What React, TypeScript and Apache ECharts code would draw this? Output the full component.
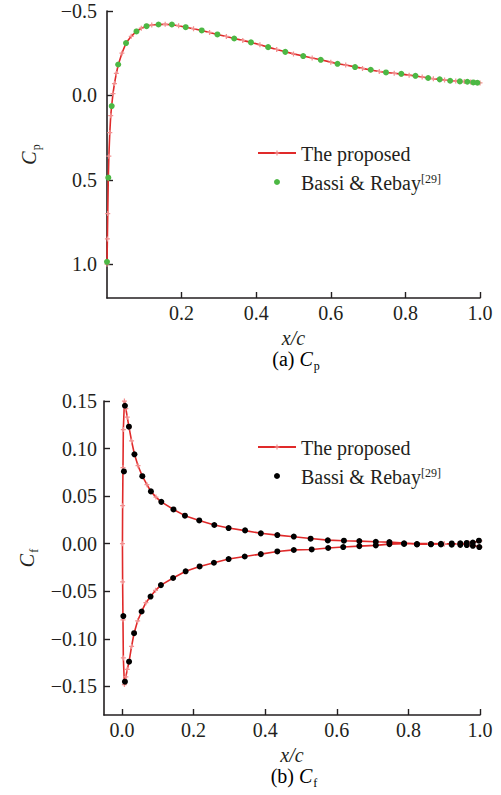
import React, { useEffect, useRef } from "react";
import * as echarts from "echarts";

// ---- Data: (a) pressure coefficient Cp ----
const cpLineX = [0, 0.001, 0.002, 0.0035, 0.005, 0.0075, 0.01, 0.0126, 0.016, 0.02, 0.025, 0.03, 0.04, 0.051, 0.065, 0.079, 0.092, 0.106, 0.12, 0.138, 0.156, 0.174, 0.192, 0.211, 0.232, 0.254, 0.275, 0.296, 0.32, 0.341, 0.364, 0.386, 0.41, 0.432, 0.455, 0.478, 0.5, 0.526, 0.55, 0.573, 0.6, 0.618, 0.64, 0.665, 0.685, 0.707, 0.73, 0.748, 0.77, 0.789, 0.81, 0.827, 0.845, 0.861, 0.875, 0.892, 0.905, 0.92, 0.935, 0.946, 0.958, 0.966, 0.975, 0.982, 0.99, 1.0];
const cpLineY = [1.0, 0.85, 0.7, 0.49, 0.36, 0.22, 0.12, 0.06, -0.01, -0.07, -0.13, -0.18, -0.25, -0.31, -0.35, -0.38, -0.398, -0.41, -0.417, -0.42, -0.421, -0.419, -0.413, -0.404, -0.395, -0.385, -0.373, -0.361, -0.349, -0.337, -0.326, -0.314, -0.3, -0.286, -0.272, -0.259, -0.246, -0.233, -0.222, -0.211, -0.197, -0.188, -0.18, -0.169, -0.16, -0.151, -0.142, -0.136, -0.131, -0.126, -0.12, -0.115, -0.109, -0.103, -0.099, -0.095, -0.091, -0.087, -0.085, -0.083, -0.082, -0.081, -0.079, -0.077, -0.076, -0.074];
const cpRefX = [0.0, 0.0035, 0.0126, 0.03, 0.051, 0.079, 0.106, 0.138, 0.174, 0.211, 0.254, 0.296, 0.341, 0.386, 0.432, 0.478, 0.526, 0.573, 0.618, 0.665, 0.707, 0.748, 0.789, 0.827, 0.861, 0.892, 0.92, 0.946, 0.966, 0.982, 0.993];
const cpRefY = [0.986, 0.487, 0.063, -0.183, -0.31, -0.379, -0.41, -0.42, -0.42, -0.404, -0.385, -0.361, -0.337, -0.314, -0.286, -0.258, -0.233, -0.211, -0.187, -0.168, -0.152, -0.136, -0.128, -0.116, -0.103, -0.095, -0.087, -0.083, -0.081, -0.077, -0.075];
const cpYTicks = [-0.5, 0, 0.5, 1.0];
const cpXTicks = [0.2, 0.4, 0.6, 0.8, 1.0];

// ---- Data: (b) skin friction coefficient Cf (upper surface TE -> LE -> lower surface TE) ----
const cfLineX = [1.0, 0.97, 0.94, 0.9, 0.86, 0.824, 0.788, 0.747, 0.709, 0.663, 0.62, 0.575, 0.527, 0.48, 0.434, 0.388, 0.344, 0.298, 0.258, 0.216, 0.176, 0.144, 0.11, 0.095, 0.081, 0.07, 0.057, 0.045, 0.035, 0.027, 0.02, 0.015, 0.011, 0.007, 0.004, 0.003, 0.002, 0.0015, 0.002, 0.003, 0.004, 0.007, 0.011, 0.015, 0.02, 0.027, 0.034, 0.044, 0.055, 0.067, 0.08, 0.094, 0.109, 0.143, 0.178, 0.217, 0.257, 0.298, 0.343, 0.388, 0.434, 0.48, 0.53, 0.576, 0.618, 0.663, 0.709, 0.747, 0.788, 0.824, 0.86, 0.9, 0.94, 0.97, 1.0];
const cfLineY = [0.003, 0.0005, 0.0, -0.0002, -0.0004, -0.0004, 0.0006, 0.0017, 0.0021, 0.0027, 0.0031, 0.0038, 0.0055, 0.0074, 0.009, 0.011, 0.0138, 0.0165, 0.0197, 0.0245, 0.0295, 0.036, 0.044, 0.049, 0.055, 0.062, 0.071, 0.082, 0.094, 0.108, 0.122, 0.133, 0.142, 0.15, 0.12, 0.08, 0.04, 0.0, -0.04, -0.08, -0.12, -0.148, -0.14, -0.132, -0.124, -0.108, -0.094, -0.081, -0.0712, -0.062, -0.0555, -0.049, -0.0435, -0.036, -0.029, -0.0239, -0.02, -0.0161, -0.0134, -0.0109, -0.0081, -0.0065, -0.006, -0.0045, -0.0035, -0.0025, -0.0017, -0.0004, 0.0, 0.0002, 0.0002, 0.0, -0.0003, -0.0008, -0.0035];
const cfRefUpperX = [0.0056, 0.0084, 0.0196, 0.035, 0.057, 0.081, 0.11, 0.144, 0.176, 0.216, 0.258, 0.298, 0.344, 0.388, 0.434, 0.48, 0.527, 0.575, 0.62, 0.663, 0.709, 0.747, 0.788, 0.824, 0.863, 0.891, 0.921, 0.945, 0.963, 0.98, 0.997];
const cfRefUpperY = [0.076, 0.145, 0.123, 0.094, 0.071, 0.055, 0.044, 0.036, 0.0295, 0.0245, 0.0197, 0.0165, 0.014, 0.0109, 0.0091, 0.0075, 0.0053, 0.0035, 0.0032, 0.0028, 0.0021, 0.0018, 0.0004, -0.0007, -0.0003, 0.0, 0.0003, 0.0005, 0.0008, 0.0012, 0.0032];
const cfRefLowerX = [0.004, 0.0084, 0.02, 0.034, 0.055, 0.08, 0.109, 0.143, 0.178, 0.217, 0.257, 0.298, 0.343, 0.388, 0.434, 0.48, 0.53, 0.576, 0.618, 0.663, 0.709, 0.747, 0.788, 0.824, 0.863, 0.891, 0.921, 0.945, 0.963, 0.98, 0.998];
const cfRefLowerY = [-0.076, -0.145, -0.124, -0.094, -0.0712, -0.0555, -0.0435, -0.036, -0.029, -0.0239, -0.02, -0.0161, -0.0134, -0.0109, -0.0081, -0.0066, -0.006, -0.0045, -0.0035, -0.0025, -0.0017, -0.0004, -0.0002, -0.0004, -0.0006, -0.0008, -0.001, -0.0012, -0.0014, -0.0022, -0.0035];
const cfYTicks = [-0.15, -0.1, -0.05, 0, 0.05, 0.1, 0.15];
const cfXTicks = [0, 0.2, 0.4, 0.6, 0.8, 1.0];

const seriesNames = ["The proposed", "Bassi & Rebay"];

const FONT = "'Times New Roman', 'Liberation Serif', serif";
const INK = "#231f20";
const RED = "#e02a2a";
const MARK = "#f39090";

const zip = (xs: number[], ys: number[]) => xs.map((x, i) => [x, ys[i]]);
const fmt = (d: number) => (v: number) => {
  const s = Math.abs(v) < 1e-9 ? (0).toFixed(d) : v.toFixed(d);
  return s.replace("-", "\u2212");
};

const rich = {
  i: { fontFamily: FONT, fontSize: 20, fontStyle: "italic", color: INK, verticalAlign: "top", lineHeight: 18 },
  n: { fontFamily: FONT, fontSize: 20, color: INK, verticalAlign: "top", lineHeight: 18 },
  s: { fontFamily: FONT, fontSize: 12, color: INK, verticalAlign: "top", lineHeight: 18, padding: [11, 0, 0, 1] },
  sup: { fontFamily: FONT, fontSize: 12, color: INK, verticalAlign: "top", lineHeight: 12, padding: [0, 0, 6, 0] },
};

const plusSymbol = "path://M3,0H5V3H8V5H5V8H3V5H0V3H3Z";

function axisCommon() {
  return {
    axisLine: { show: true, onZero: false, lineStyle: { color: INK, width: 1.6 } },
    axisTick: { show: true, inside: true, length: 6, lineStyle: { color: INK, width: 1.4 } },
    splitLine: { show: false },
    axisLabel: { fontFamily: FONT, fontSize: 20, color: INK },
    nameTextStyle: { fontFamily: FONT, fontSize: 20, color: INK, rich },
  };
}

const legendFormatter = (n: string) =>
  n.endsWith("line") ? "{n|" + seriesNames[0] + "}" : "{n|" + seriesNames[1] + "}{sup|[29]}";

export default function App() {
  const ref = useRef<HTMLDivElement>(null);
  useEffect(() => {
    if (!ref.current) return;
    const chart = echarts.init(ref.current, undefined, { renderer: "svg" });
    const base = axisCommon();
    const option: any = {
      animation: false,
      backgroundColor: "#ffffff",
      grid: [
        { left: 107, top: 11, width: 373, height: 287 },
        { left: 104, top: 401, width: 376, height: 314 },
      ],
      xAxis: [
        {
          ...base,
          type: "value",
          gridIndex: 0,
          min: 0,
          max: 1.0,
          axisTick: { ...base.axisTick, customValues: cpXTicks },
          axisLabel: { ...base.axisLabel, margin: 5, customValues: cpXTicks, formatter: fmt(1) },
          name: "{i|x/c}",
          nameLocation: "middle",
          nameGap: 30,
        },
        {
          ...base,
          type: "value",
          gridIndex: 1,
          min: -0.05,
          max: 1.0,
          axisTick: { ...base.axisTick, customValues: cfXTicks },
          axisLabel: { ...base.axisLabel, margin: 5, customValues: cfXTicks, formatter: fmt(1) },
          name: "{i|x/c}",
          nameLocation: "middle",
          nameGap: 30,
        },
      ],
      yAxis: [
        {
          ...base,
          type: "value",
          gridIndex: 0,
          inverse: true,
          min: -0.5,
          max: 1.2,
          axisTick: { ...base.axisTick, customValues: cpYTicks },
          axisLabel: { ...base.axisLabel, margin: 10, customValues: cpYTicks, formatter: fmt(1) },
          name: "{i|C}{s|p}",
          nameLocation: "middle",
          nameRotate: 90,
          nameGap: 70,
        },
        {
          ...base,
          type: "value",
          gridIndex: 1,
          min: -0.18,
          max: 0.15,
          axisTick: { ...base.axisTick, customValues: cfYTicks },
          axisLabel: { ...base.axisLabel, margin: 7, customValues: cfYTicks, formatter: fmt(2) },
          name: "{i|C}{s|f}",
          nameLocation: "middle",
          nameRotate: 90,
          nameGap: 69,
        },
      ],
      legend: [
        {
          left: 252,
          top: 139,
          orient: "vertical",
          selectedMode: false,
          itemWidth: 38,
          itemHeight: 6,
          itemGap: 9,
          data: ["cp-line", "cp-ref"],
          formatter: legendFormatter,
          textStyle: { fontFamily: FONT, fontSize: 20, color: INK, rich },
        },
        {
          left: 252,
          top: 433,
          orient: "vertical",
          selectedMode: false,
          itemWidth: 38,
          itemHeight: 6,
          itemGap: 9,
          data: ["cf-line", "cf-ref"],
          formatter: legendFormatter,
          textStyle: { fontFamily: FONT, fontSize: 20, color: INK, rich },
        },
      ],
      graphic: [
        {
          type: "text",
          x: 296,
          y: 358,
          style: { text: "{n|(a) }{i|C}{s|p}", rich, textAlign: "center", textVerticalAlign: "middle" },
        },
        {
          type: "text",
          x: 294,
          y: 775,
          style: { text: "{n|(b) }{i|C}{s|f}", rich, textAlign: "center", textVerticalAlign: "middle" },
        },
      ],
      series: [
        {
          name: "cp-line",
          type: "line",
          xAxisIndex: 0,
          yAxisIndex: 0,
          data: zip(cpLineX, cpLineY),
          lineStyle: { color: RED, width: 1.6 },
          itemStyle: { color: MARK },
          symbol: plusSymbol,
          symbolSize: 5,
          showSymbol: true,
          z: 2,
        },
        {
          name: "cp-ref",
          type: "scatter",
          xAxisIndex: 0,
          yAxisIndex: 0,
          data: zip(cpRefX, cpRefY),
          symbol: "circle",
          symbolSize: 6,
          itemStyle: { color: "#4cb844", opacity: 1 },
          z: 3,
        },
        {
          name: "cf-line",
          type: "line",
          xAxisIndex: 1,
          yAxisIndex: 1,
          data: zip(cfLineX, cfLineY),
          lineStyle: { color: RED, width: 1.6 },
          itemStyle: { color: MARK },
          symbol: plusSymbol,
          symbolSize: 5,
          showSymbol: true,
          z: 2,
        },
        {
          name: "cf-ref",
          type: "scatter",
          xAxisIndex: 1,
          yAxisIndex: 1,
          data: zip(cfRefUpperX, cfRefUpperY).concat(zip(cfRefLowerX, cfRefLowerY)),
          symbol: "circle",
          symbolSize: 6,
          itemStyle: { color: "#000000", opacity: 1 },
          z: 3,
        },
      ],
    };
    chart.setOption(option);
    return () => chart.dispose();
  }, []);
  return (
    <div
      ref={ref}
      style={{ position: "absolute", left: 0, top: 0, width: 501, height: 795, background: "#fff" }}
    />
  );
}
